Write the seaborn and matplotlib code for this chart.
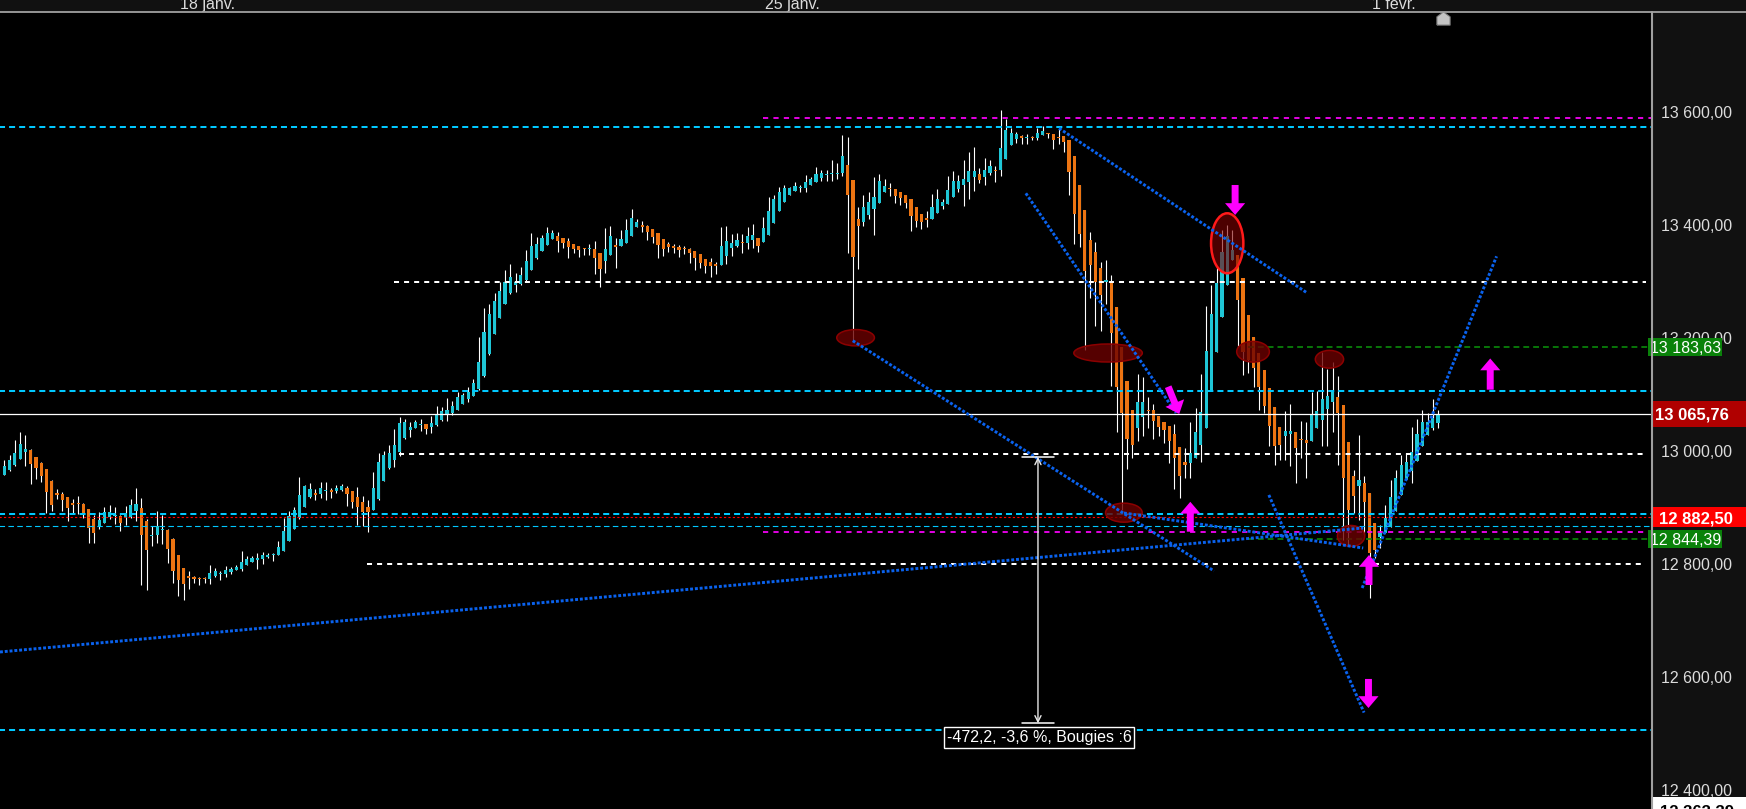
import numpy as np
import pandas as pd
import matplotlib
matplotlib.use('Agg')
import matplotlib.pyplot as plt
import seaborn as sns
from matplotlib.patches import Ellipse, Rectangle
from matplotlib.lines import Line2D
from matplotlib.path import Path

# hourly candles
opens = [12958,12966,12975,12986,12998,13002,12989,12979,12968,12947,
         12926,12924,12918,12908,12907,12906,12897,12880,12867,12872,
         12883,12884,12885,12881,12883,12894,12899,12876,12849,12851,
         12860,12860,12844,12816,12793,12779,12777,12775,12775,12773,
         12779,12782,12782,12786,12789,12791,12798,12803,12807,12809,
         12812,12815,12816,12823,12841,12862,12881,12901,12919,12926,
         12924,12929,12931,12929,12931,12934,12929,12919,12910,12901,
         12895,12915,12947,12970,12984,12998,13023,13037,13041,13046,
         13048,13043,13046,13055,13064,13067,13073,13083,13092,13098,
         13110,13133,13172,13207,13236,13261,13280,13294,13296,13303,
         13321,13342,13355,13365,13376,13381,13378,13372,13367,13363,
         13360,13358,13358,13351,13337,13347,13365,13363,13369,13381,
         13397,13401,13399,13394,13386,13376,13367,13363,13362,13360,
         13358,13355,13349,13340,13335,13331,13330,13346,13360,13363,
         13370,13369,13374,13378,13371,13383,13404,13425,13441,13454,
         13461,13466,13466,13472,13477,13484,13489,13491,13491,13493,
         13507,13480,13411,13406,13418,13429,13440,13459,13466,13464,
         13459,13454,13447,13433,13420,13413,13411,13422,13434,13438,
         13450,13464,13472,13477,13486,13491,13486,13493,13498,13498,
         13518,13542,13553,13558,13555,13557,13555,13560,13564,13562,
         13557,13558,13551,13523,13472,13427,13374,13353,13324,13300,
         13301,13255,13184,13124,13073,13041,13061,13073,13073,13062,
         13052,13044,13030,13007,12981,12979,12988,13011,13041,13108,
         13176,13238,13294,13339,13348,13306,13241,13202,13173,13144,
         13111,13078,13043,13027,13031,13034,13022,13020,13018,13040,
         13055,13075,13087,13095,13082,13016,12956,12938,12943,12925,
         12873,12848,12854,12866,12893,12922,12949,12965,12982,13008,
         13028,13040,13049]
highs = [12984,12993,13020,13034,13028,13003,12990,12980,12969,12948,
         12933,12927,12919,12915,12920,12907,12898,12887,12892,12901,
         12904,12901,12886,12903,12915,12934,12917,12880,12867,12894,
         12887,12861,12845,12816,12793,12787,12779,12777,12777,12798,
         12793,12787,12796,12794,12798,12823,12814,12814,12819,12821,
         12819,12819,12841,12881,12894,12901,12954,12940,12943,12933,
         12945,12945,12934,12940,12942,12938,12930,12936,12920,12913,
         12963,12997,13000,13011,13039,13060,13057,13051,13055,13057,
         13048,13062,13080,13078,13094,13089,13105,13103,13113,13128,
         13202,13254,13261,13280,13300,13321,13331,13316,13326,13356,
         13386,13379,13383,13397,13392,13388,13378,13378,13367,13364,
         13360,13367,13372,13351,13395,13399,13378,13392,13411,13429,
         13411,13408,13401,13394,13386,13376,13370,13367,13365,13363,
         13360,13355,13349,13340,13342,13335,13397,13399,13385,13386,
         13385,13397,13402,13378,13415,13450,13454,13468,13472,13468,
         13477,13472,13489,13486,13503,13498,13498,13516,13511,13560,
         13557,13481,13433,13454,13459,13486,13491,13482,13475,13465,
         13459,13454,13447,13433,13420,13425,13456,13464,13447,13487,
         13496,13489,13516,13530,13539,13502,13519,13516,13505,13604,
         13589,13573,13565,13560,13562,13558,13573,13576,13564,13562,
         13573,13558,13551,13523,13472,13427,13388,13371,13335,13339,
         13312,13255,13184,13124,13073,13137,13131,13096,13083,13062,
         13052,13044,13048,13007,13005,13052,13077,13137,13257,13294,
         13326,13392,13401,13392,13348,13306,13241,13202,13173,13144,
         13111,13078,13043,13071,13083,13034,13053,13052,13104,13106,
         13175,13145,13158,13133,13082,13016,12966,13028,12955,12925,
         12873,12869,12904,12949,12966,12993,12996,13043,13056,13073,
         13067,13092,13073]
lows = [12957,12965,12974,12985,12973,12941,12950,12945,12890,12894,
        12915,12894,12876,12888,12888,12881,12837,12837,12862,12872,
        12880,12871,12858,12869,12882,12876,12762,12754,12832,12837,
        12835,12801,12766,12743,12736,12755,12766,12762,12766,12764,
        12777,12771,12777,12782,12789,12787,12798,12803,12791,12800,
        12810,12805,12815,12822,12840,12861,12880,12900,12917,12913,
        12917,12913,12917,12926,12930,12903,12899,12869,12867,12856,
        12895,12914,12946,12969,12972,12991,13022,13025,13040,13036,
        13030,13032,13045,13054,13053,13064,13072,13083,13087,13097,
        13109,13132,13171,13207,13235,13260,13279,13282,13295,13302,
        13320,13341,13354,13365,13375,13353,13360,13342,13351,13344,
        13347,13347,13314,13291,13316,13347,13324,13363,13368,13381,
        13397,13388,13374,13369,13342,13346,13353,13351,13344,13349,
        13333,13321,13324,13316,13308,13314,13329,13331,13346,13362,
        13351,13358,13360,13353,13370,13382,13404,13425,13441,13454,
        13461,13459,13459,13472,13477,13479,13479,13479,13482,13487,
        13351,13197,13323,13399,13411,13383,13440,13459,13452,13440,
        13436,13431,13390,13397,13394,13397,13411,13422,13429,13438,
        13450,13459,13434,13447,13461,13475,13472,13489,13477,13487,
        13518,13542,13546,13544,13544,13551,13551,13560,13555,13535,
        13544,13530,13454,13367,13362,13179,13271,13222,13213,13261,
        13115,13034,12896,12968,12987,13017,13027,13040,13022,13026,
        13014,12978,12932,12917,12952,12952,12988,12981,13041,13108,
        13176,13238,13294,13338,13185,13135,13138,13114,13073,13067,
        13008,12975,12984,12984,12974,12944,12988,12953,13018,13040,
        13008,13008,13033,12975,12842,12834,12890,12878,12851,12740,
        12810,12828,12854,12866,12893,12922,12949,12943,12982,13008,
        13028,13037,13040]
closes = [12973,12984,12996,13012,13004,12977,12970,12956,12927,12904,
          12922,12913,12899,12904,12906,12890,12863,12855,12878,12892,
          12892,12887,12872,12890,12904,12906,12851,12824,12851,12867,
          12862,12826,12787,12771,12764,12775,12773,12773,12773,12784,
          12787,12784,12789,12791,12794,12803,12809,12810,12810,12816,
          12816,12816,12830,12858,12885,12895,12922,12938,12933,12922,
          12934,12931,12927,12934,12938,12924,12910,12901,12892,12892,
          12934,12981,12993,12997,13011,13050,13051,13043,13051,13048,
          13039,13050,13066,13071,13073,13080,13096,13099,13105,13121,
          13158,13211,13243,13266,13284,13300,13308,13300,13312,13337,
          13363,13367,13378,13386,13386,13372,13369,13362,13358,13356,
          13358,13360,13342,13323,13358,13381,13362,13376,13392,13413,
          13406,13397,13388,13379,13365,13358,13362,13360,13356,13358,
          13351,13342,13333,13328,13328,13328,13363,13372,13369,13374,
          13369,13381,13383,13363,13395,13425,13447,13459,13466,13466,
          13470,13468,13477,13482,13491,13493,13491,13493,13493,13523,
          13454,13344,13399,13433,13441,13450,13479,13470,13464,13452,
          13448,13440,13417,13408,13406,13409,13433,13447,13441,13463,
          13479,13479,13482,13496,13496,13480,13498,13505,13496,13537,
          13569,13564,13562,13555,13557,13555,13564,13567,13562,13551,
          13555,13548,13495,13420,13385,13319,13330,13300,13277,13303,
          13210,13114,13067,13022,13010,13087,13087,13071,13054,13043,
          13037,13017,12987,12956,12975,12997,13034,13070,13177,13242,
          13298,13352,13381,13356,13267,13176,13161,13147,13114,13080,
          13045,13008,13011,13036,13036,13006,13020,13015,13063,13071,
          13093,13098,13104,13068,12953,12896,12920,12949,12910,12819,
          12825,12854,12881,12919,12952,12976,12981,12998,13030,13052,
          13052,13059,13065.76]

date_labels = ['18 janv.', '25 janv.', '1 févr.']
date_pos = [38.6, 149.6, 263.6]
price_ticks = [13600, 13400, 13200, 13000, 12800, 12600, 12400]
last_price = 13065.76

# horizontal levels drawn on the chart
level_price = [13590, 13575, 13300, 13183.63, 13107, 13065.76, 12994,
               12888.6, 12882.5, 12867, 12857, 12844.39, 12800, 12506]
level_from = [143.9, -1, 73.9, 235.9, -1, -1, 74.9,
              -1, -1, -1, 143.9, 236, 68.8, -1]
level_to = [313, 313, 311.5, 313, 313, 313, 311.5,
            313, 313, 313, 313, 313, 310.9, 313]
level_kind = ['mag', 'cyan', 'white', 'green', 'cyan', 'last', 'white',
              'cyan', 'red', 'cyan_thin', 'mag', 'green', 'white', 'cyan']

# red ellipses: candle index, price, width (candles), height (points)
ell_x = [161.5, 209.4, 232.0, 236.9, 251.4, 212.4, 255.5]
ell_y = [13200.8, 13173.7, 13368.2, 13176.0, 13162.6, 12890.7, 12849.4]
ell_w = [7.15, 13.0, 6.13, 6.2, 5.37, 6.96, 5.18]
ell_h = [28.9, 31.9, 106.3, 36.7, 31.4, 33.7, 37.2]

# blue dotted trend lines
trend_x0 = [160.96, 200.1, 193.8, -0.82, 212.4, 239.9, 257.6]
trend_y0 = [13195.5, 13572.0, 13456.8, 12643.8, 12890.1, 12922.1, 12757.2]
trend_x1 = [229.5, 247.1, 222.3, 257.8, 257.8, 257.96, 283.1]
trend_y1 = [12787.4, 13280.6, 13067.4, 12863.6, 12828.1, 12536.4, 13345.1]

# magenta arrows: tail -> tip
arr_x0 = [233.5, 220.8, 225.0, 258.9, 258.8, 281.9]
arr_y0 = [13471.5, 13114.0, 12857.0, 12762.5, 12596.0, 13108.7]
arr_x1 = [233.5, 222.9, 225.0, 258.9, 258.8, 281.9]
arr_y1 = [13418.3, 13065.6, 12910.0, 12815.7, 12544.5, 13164.0]

# measuring tool
meas_x = 196.1
meas_top, meas_bot = 12989.4, 12517.4
meas_text = '-472,2, -3,6 %, Bougies :6'

CYAN_C = '#1fc6d6'
ORANGE_C = '#ec7412'
styles = {
    'mag': dict(color='#ff00ff', lw=1.25, dashes=(3, 3)),
    'cyan': dict(color='#00c8ff', lw=1.45, dashes=(3, 2)),
    'cyan_thin': dict(color='#00c8ff', lw=0.8, dashes=(5, 3)),
    'white': dict(color='white', lw=1.45, dashes=(2.5, 2.5)),
    'green': dict(color='#0a8a0a', lw=1.2, dashes=(3.5, 2.4)),
    'red': dict(color='#ff0000', lw=0.8, dashes=(2, 2)),
    'last': dict(color='white', lw=0.9),
}

sns.set_theme(style='dark', rc={'axes.facecolor': 'black', 'figure.facecolor': 'black'})
plt.rcParams['font.family'] = ['Liberation Sans', 'DejaVu Sans']

W, H = 1746, 809
fig = plt.figure(figsize=(W / 100, H / 100), dpi=100)
ax = fig.add_axes([0, 0, 1651 / W, 797 / H])
axr = fig.add_axes([1651 / W, 0, 95 / W, 797 / H])
axt = fig.add_axes([0, 797 / H, 1, 12 / H])

ylo, yhi = 12365.5, 13778.1
x0 = -0.816
ax.set_xlim(x0, 312.4)
ax.set_ylim(ylo, yhi)
axr.set_xlim(0, 95)
axr.set_ylim(ylo, yhi)
axt.set_xlim(x0, x0 + W / 5.271)
axt.set_ylim(12, 0)
for a, fc in ((ax, 'black'), (axr, '#111111'), (axt, '#111111')):
    a.set_facecolor(fc)
    a.set_xticks([])
    a.set_yticks([])
    for s in a.spines.values():
        s.set_visible(False)

df = pd.DataFrame({'o': opens, 'h': highs, 'l': lows, 'c': closes})
df['i'] = np.arange(len(df))
up = df['c'] >= df['o']

# candles
ax.vlines(df['i'], df['l'], df['h'], color='white', lw=0.8, zorder=2)
body_lo = np.minimum(df['o'], df['c'])
body_h = np.maximum(np.abs(df['c'] - df['o']), 1.8)
ax.bar(df['i'], body_h, bottom=body_lo, width=0.6,
       color=np.where(up, CYAN_C, ORANGE_C), linewidth=0, zorder=3)

# levels
for p, a0, a1, k in zip(level_price, level_from, level_to, level_kind):
    st = dict(styles[k])
    dashes = st.pop('dashes', None)
    line, = ax.plot([a0, a1], [p, p], zorder=4, **st)
    if dashes:
        line.set_dashes(dashes)

# ellipses
for i, (ex, ey, ew, eh) in enumerate(zip(ell_x, ell_y, ell_w, ell_h)):
    if i == 2:
        e = Ellipse((ex, ey), ew, eh, fc=(0.5, 0, 0, 0.6), ec='#ff1a1a', lw=1.8, zorder=5)
    else:
        e = Ellipse((ex, ey), ew, eh, fc=(0.42, 0, 0, 0.8), ec='#8c0000', lw=1.1, zorder=5)
    ax.add_patch(e)

# trend lines with seaborn
rows = []
for k, (a, b, c, d) in enumerate(zip(trend_x0, trend_y0, trend_x1, trend_y1)):
    rows.append({'x': a, 'y': b, 'seg': k})
    rows.append({'x': c, 'y': d, 'seg': k})
tl = pd.DataFrame(rows)
sns.lineplot(data=tl, x='x', y='y', units='seg', estimator=None, ax=ax,
             color='#0a62ee', lw=2.1, linestyle=(0, (1, 0.65)),
             dash_capstyle='butt', zorder=6, legend=False)
ax.set_xlabel('')
ax.set_ylabel('')
ax.set_xlim(x0, 312.4)
ax.set_ylim(ylo, yhi)

# arrows
for a, b, c, d in zip(arr_x0, arr_y0, arr_x1, arr_y1):
    ax.annotate('', xy=(c, d), xytext=(a, b),
                arrowprops=dict(arrowstyle='simple,head_length=0.85,head_width=1.45,tail_width=0.5',
                                fc='#ff00ff', ec='#ff00ff', lw=0, shrinkA=0, shrinkB=0,
                                mutation_scale=10), zorder=7)

# measuring tool
ax.annotate('', xy=(meas_x, meas_top), xytext=(meas_x, meas_bot),
            arrowprops=dict(arrowstyle='<->', color='#e8e8e8', lw=1.0,
                            shrinkA=0, shrinkB=0, mutation_scale=11), zorder=7)
for yy in (meas_top, meas_bot):
    ax.plot([meas_x - 3.1, meas_x + 3.1], [yy, yy], color='white', lw=1.1, zorder=7)
ax.text(meas_x + 0.2, meas_bot - 24.8, meas_text, ha='center', va='center',
        color='white', fontsize=11.5, zorder=8,
        bbox=dict(boxstyle='square,pad=0.18', fc='black', ec='white', lw=1))

# current-candle marker on top edge
house = Path([(-1, -1), (1, -1), (1, 0.25), (0, 1), (-1, 0.25), (-1, -1)])
ax.plot([273], [13767.5], marker=house, ms=9.5, color='#c4c4c4', mec='#7a7a7a',
        mew=0.8, clip_on=False, zorder=9)

# price scale
fmt = lambda v: f'{v:,.2f}'.replace(',', ' ').replace('.', ',')
for t in price_ticks:
    axr.text(10, t, fmt(t), color='#dcdcdc', fontsize=11.5, va='center_baseline', ha='left')

axr.add_patch(Rectangle((0, last_price - 22.9), 95, 45.8, fc='#b00000', ec='none', zorder=3))
axr.text(4, last_price, fmt(last_price), color='white', fontsize=12, fontweight='bold',
         va='center_baseline', ha='left', zorder=4)
axr.add_patch(Rectangle((0, 12882.5 - 17.7), 95, 35.4, fc='#ff0000', ec='none', zorder=3))
axr.text(8, 12882.5, fmt(12882.5), color='white', fontsize=12, fontweight='bold',
         va='center_baseline', ha='left', zorder=4)
for gp in (13183.63, 12844.39):
    axr.add_patch(Rectangle((-3, gp - 16), 74, 32, fc='#0a820a', ec='none',
                            zorder=3, clip_on=False))
    axr.text(-1.5, gp, fmt(gp), color='white', fontsize=11.5, va='center_baseline', ha='left',
             zorder=4, clip_on=False)
axr.add_patch(Rectangle((0, 12363.39 - 23), 95, 46, fc='white', ec='none', zorder=3))
axr.text(9, 12363.39, fmt(12363.39), color='black', fontsize=12, fontweight='bold',
         va='center_baseline', ha='left', zorder=4)

# time scale
for lab, pos in zip(date_labels, date_pos):
    axt.text(pos, 8.6, lab, color='#dcdcdc', fontsize=11.5, ha='center', va='baseline')

fig.add_artist(Line2D([0, 1], [797.4 / H, 797.4 / H], transform=fig.transFigure,
                      color='#a0a0a0', lw=1.3))
fig.add_artist(Line2D([1651.8 / W, 1651.8 / W], [0, 797 / H], transform=fig.transFigure,
                      color='#a0a0a0', lw=1.5))

fig.savefig('out.png', dpi=100, facecolor='black')
